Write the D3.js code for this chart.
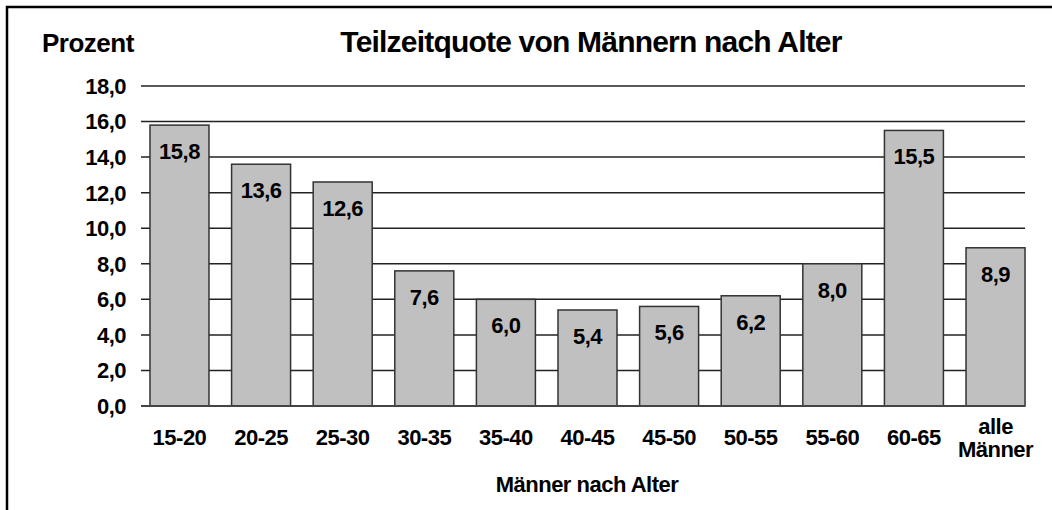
<!DOCTYPE html>
<html>
<head>
<meta charset="utf-8">
<script src="https://cdn.jsdelivr.net/npm/d3@7"></script>
<style>
  body { margin: 0; background: #fff; }
  text { font-family: "Liberation Sans", Arial, sans-serif; font-weight: bold; fill: #000; }
</style>
</head>
<body>
<div id="chart"></div>
<script>
// data
var categories = ["15-20", "20-25", "25-30", "30-35", "35-40", "40-45", "45-50", "50-55", "55-60", "60-65", "alle\nMänner"];
var values = [15.8, 13.6, 12.6, 7.6, 6.0, 5.4, 5.6, 6.2, 8.0, 15.5, 8.9];
var yTicks = [0, 2, 4, 6, 8, 10, 12, 14, 16, 18];

var W = 1052, H = 510;
var plotLeft = 141, plotRight = 1025, plotTop = 86, plotBottom = 406;

var fmt = function(v) { return d3.format(".1f")(v).replace(".", ","); };

var svg = d3.select("#chart")
	.append("svg")
		.attr("width", W)
		.attr("height", H);

// frame (only left and top edges fall inside the picture)
svg.append("rect")
	.attr("x", 7).attr("y", 7)
	.attr("width", W + 20).attr("height", H + 20)
	.attr("fill", "none")
	.attr("stroke", "#000")
	.attr("stroke-width", 2.5);

var y = d3.scaleLinear()
	.domain([0, 18])
	.range([plotBottom, plotTop]);

var x = d3.scaleBand()
	.domain(categories)
	.range([plotLeft, 1034])
	.paddingInner(0.277)
	.paddingOuter(0.11);

// gridlines
svg.append("g")
	.selectAll("line")
	.data(yTicks.filter(function(d) { return d > 0; }))
	.enter().append("line")
		.attr("x1", plotLeft).attr("x2", plotRight)
		.attr("y1", function(d) { return y(d); })
		.attr("y2", function(d) { return y(d); })
		.attr("stroke", "#222")
		.attr("stroke-width", 1.5);

// y tick labels
svg.append("g")
	.selectAll("text")
	.data(yTicks)
	.enter().append("text")
		.attr("x", 126)
		.attr("y", function(d) { return y(d); })
		.attr("dy", "0.36em")
		.attr("text-anchor", "end")
		.style("font-size", "22px")
		.style("letter-spacing", "-0.5px")
		.text(fmt);

// bars
svg.append("g")
	.selectAll("rect")
	.data(values)
	.enter().append("rect")
		.attr("x", function(d, i) { return x(categories[i]); })
		.attr("y", function(d) { return y(d); })
		.attr("width", x.bandwidth())
		.attr("height", function(d) { return plotBottom - y(d); })
		.attr("fill", "#c0c0c0")
		.attr("stroke", "#333")
		.attr("stroke-width", 1.5);

// value labels inside bars
svg.append("g")
	.selectAll("text")
	.data(values)
	.enter().append("text")
		.attr("x", function(d, i) { return x(categories[i]) + x.bandwidth() / 2; })
		.attr("y", function(d) { return y(d) + 34; })
		.attr("text-anchor", "middle")
		.style("font-size", "22px")
		.style("letter-spacing", "-0.5px")
		.text(fmt);

// x axis line
svg.append("line")
	.attr("x1", plotLeft).attr("x2", plotRight)
	.attr("y1", plotBottom).attr("y2", plotBottom)
	.attr("stroke", "#444")
	.attr("stroke-width", 2);

// category labels (two lines for the last one)
svg.append("g")
	.selectAll("g")
	.data(categories)
	.enter().append("g")
		.attr("transform", function(d) { return "translate(" + (x(d) + x.bandwidth() / 2) + ",0)"; })
	.selectAll("text")
	.data(function(d) {
		var parts = d.split("\n");
		return parts.map(function(p, j) { return {text: p, y: parts.length > 1 ? 434 + j * 23 : 445}; });
	})
	.enter().append("text")
		.attr("y", function(d) { return d.y; })
		.attr("text-anchor", "middle")
		.style("font-size", "22px")
		.style("letter-spacing", "-0.5px")
		.text(function(d) { return d.text; });

// titles
svg.append("text")
	.attr("x", 591).attr("y", 52)
	.attr("text-anchor", "middle")
	.style("font-size", "30px")
	.style("letter-spacing", "-0.8px")
	.text("Teilzeitquote von Männern nach Alter");

svg.append("text")
	.attr("x", 42).attr("y", 52)
	.style("font-size", "26px")
	.style("letter-spacing", "-0.5px")
	.text("Prozent");

svg.append("text")
	.attr("x", 587).attr("y", 492)
	.attr("text-anchor", "middle")
	.style("font-size", "22px")
	.style("letter-spacing", "-0.5px")
	.text("Männer nach Alter");
</script>
</body>
</html>
